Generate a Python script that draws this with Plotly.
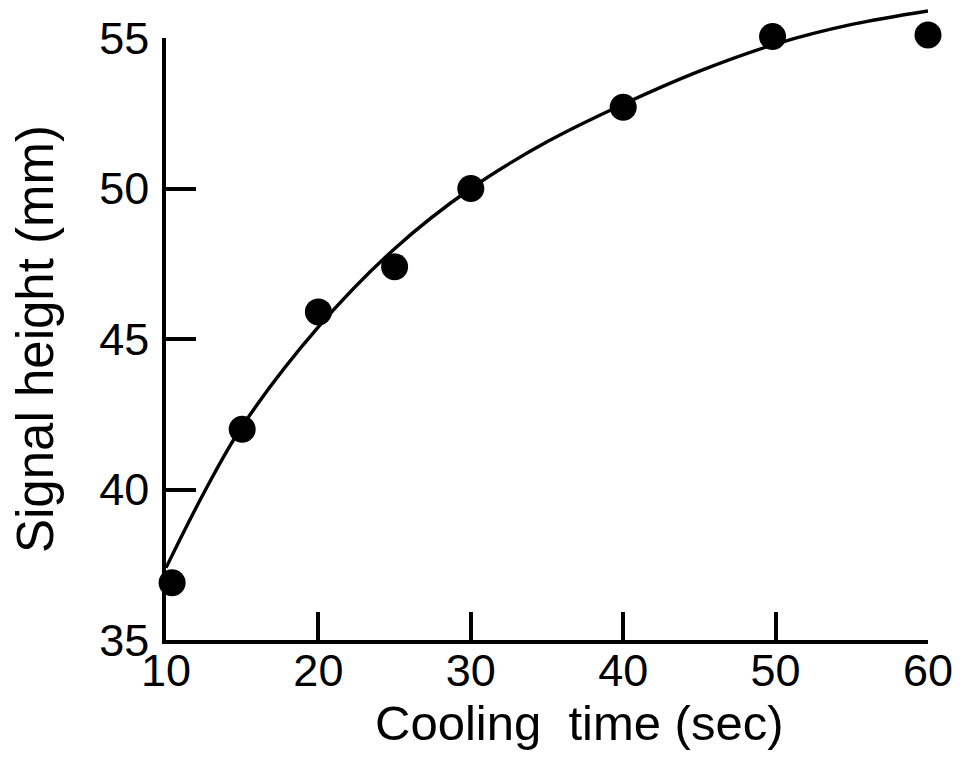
import plotly.graph_objects as go

# Measured points
cool_time = [10.4, 15, 20, 25, 30, 40, 49.8, 60]
signal_height = [36.9, 42.0, 45.9, 47.4, 50.0, 52.7, 55.05, 55.1]

# Hand-drawn smooth curve
curve_time = [10, 12.5, 15, 20, 25, 30, 35, 40, 45, 50, 55, 60]
curve_height = [37.4, 39.9, 42.1, 45.4, 48.0, 50.0, 51.55, 52.8, 53.9, 54.8, 55.45, 55.9]

x_ticks = [10, 20, 30, 40, 50, 60]
y_ticks = [35, 40, 45, 50, 55]

FONT = "Liberation Sans, Arial, sans-serif"
INK = "black"

fig = go.Figure()

# empty trace so the visible y axis (35-55) gets its own subplot drawn
fig.add_trace(go.Scatter(x=[], y=[], mode="markers", yaxis="y",
                         hoverinfo="skip", showlegend=False))

fig.add_trace(go.Scatter(
    x=curve_time, y=curve_height, mode="lines",
    line=dict(color=INK, width=3.4, shape="spline", smoothing=1.0),
    yaxis="y2", hoverinfo="skip", showlegend=False,
))

fig.add_trace(go.Scatter(
    x=cool_time, y=signal_height, mode="markers",
    marker=dict(color=INK, size=27, line=dict(width=0)),
    yaxis="y2", cliponaxis=False, showlegend=False,
))

top_margin = 8
bottom_margin = 138
plot_h = 778 - top_margin - bottom_margin
dom_top = 602 / plot_h

fig.update_layout(
    width=964, height=778,
    margin=dict(l=166, r=36, t=top_margin, b=bottom_margin, autoexpand=False),
    paper_bgcolor="white", plot_bgcolor="rgba(0,0,0,0)",
    font=dict(family=FONT, color=INK, size=45),
    xaxis=dict(
        range=[10, 60], tickvals=x_ticks, ticktext=[str(v) for v in x_ticks],
        showline=True, linecolor=INK, linewidth=3.5,
        ticks="inside", ticklen=28, tickwidth=3.5, tickcolor=INK,
        showgrid=False, zeroline=False, anchor="y", automargin=False,
        tickfont=dict(family=FONT, size=45, color=INK),
        ticklabelstandoff=-12,
    ),
    yaxis=dict(
        range=[35, 55], domain=[0, dom_top], tickvals=y_ticks,
        ticktext=[str(v) for v in y_ticks],
        showline=True, linecolor=INK, linewidth=3.5,
        ticks="inside", ticklen=30, tickwidth=3.5, tickcolor=INK,
        showgrid=False, zeroline=False, anchor="x", automargin=False,
        tickfont=dict(family=FONT, size=45, color=INK),
        ticklabelstandoff=4,
    ),
    yaxis2=dict(
        range=[35, 35 + 20 / dom_top], domain=[0, 1], anchor="x",
        visible=False, showgrid=False, zeroline=False, automargin=False,
    ),
    annotations=[
        dict(text="Cooling  time (sec)", xref="paper", yref="paper",
             x=0.542, y=0, yshift=-83, xanchor="center", yanchor="middle",
             showarrow=False, font=dict(family=FONT, size=49, color=INK)),
        dict(text="Signal height (mm)", xref="paper", yref="paper",
             x=0, y=dom_top / 2, xshift=-131, xanchor="center", yanchor="middle",
             textangle=-90, showarrow=False,
             font=dict(family=FONT, size=51, color=INK)),
    ],
)

fig.write_html("out.html")
